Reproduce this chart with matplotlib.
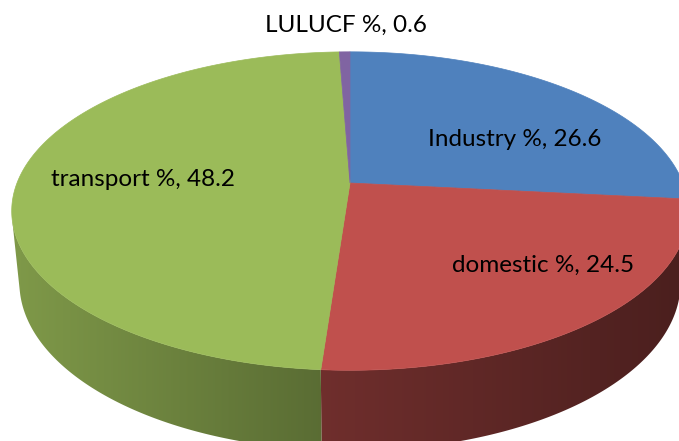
import numpy as np
import matplotlib.pyplot as plt
from matplotlib.patches import Polygon
from matplotlib.colors import to_rgb

# données du graphique
labels = ["Industry %", "domestic %", "transport %", "LULUCF %"]
values = [26.6, 24.5, 48.2, 0.6]
colors = ["#4F81BD", "#C0504D", "#9BBB59", "#8064A2"]

# géométrie du camembert 3D (pixels)
CX, CY, K = 350, 183, 333
TILT = np.radians(27.6)
DIST = 5.03
H = 0.245
W, HPX = 679, 441


def project(theta, z=0.0):
    """angle dans le sens horaire depuis le haut -> coordonnées pixels"""
    u, v = np.sin(theta), np.cos(theta)
    s, c = np.sin(TILT), np.cos(TILT)
    depth = DIST + v * c - z * s
    x = u * DIST / depth
    y = (v * s + z * c) * DIST / depth
    return CX + K * x, CY - K * y


fig = plt.figure(figsize=(6.79, 4.41), dpi=100)
ax = fig.add_axes([0, 0, 1, 1])
ax.set_xlim(0, W)
ax.set_ylim(HPX, 0)
ax.axis("off")

fracs = np.array(values) / np.sum(values)
bounds = np.concatenate([[0], np.cumsum(fracs)]) * 2 * np.pi
limit = np.arccos(-1 / (DIST * np.cos(TILT)))  # début de la paroi visible

# ombrage horizontal des parois
xcols = np.arange(W) + 0.5
shade = np.interp(xcols, [12, 322, 680], [0.82, 0.58, 0.39])

for i, col in enumerate(colors):
    a0 = max(bounds[i], limit)
    a1 = min(bounds[i + 1], 2 * np.pi - limit)
    if a1 <= a0:
        continue
    t = np.linspace(a0, a1, 200)
    xt, yt = project(t)
    xb, yb = project(t[::-1], -H)
    pts = list(zip(xt, yt)) + list(zip(xb, yb))
    poly = Polygon(pts, closed=True, facecolor="none", edgecolor="none")
    ax.add_patch(poly)
    base = np.array(to_rgb(col))
    img = np.tile((shade[:, None] * base[None, :])[None, :, :], (2, 1, 1))
    im = ax.imshow(img, extent=(0, W, HPX, 0), aspect="auto",
                   interpolation="bilinear", zorder=1)
    im.set_clip_path(poly)

# dessus
for i, col in enumerate(colors):
    t = np.linspace(bounds[i], bounds[i + 1], max(3, int(400 * fracs[i])))
    xs, ys = project(t)
    pts = [(CX, CY)] + list(zip(xs, ys))
    ax.add_patch(Polygon(pts, closed=True, facecolor=col, edgecolor=col,
                         lw=0.5, zorder=2))

ax.set_xlim(0, W)
ax.set_ylim(HPX, 0)

# étiquettes
label_pos = [(515, 146), (543, 272), (143, 186), (346, 32)]
for lab, val, (x, y) in zip(labels, values, label_pos):
    ax.text(x, y, f"{lab}, {val}", ha="center", va="baseline",
            fontsize=17.5, family="Lato", color="black", zorder=3)

fig.savefig("out.png", dpi=100)
